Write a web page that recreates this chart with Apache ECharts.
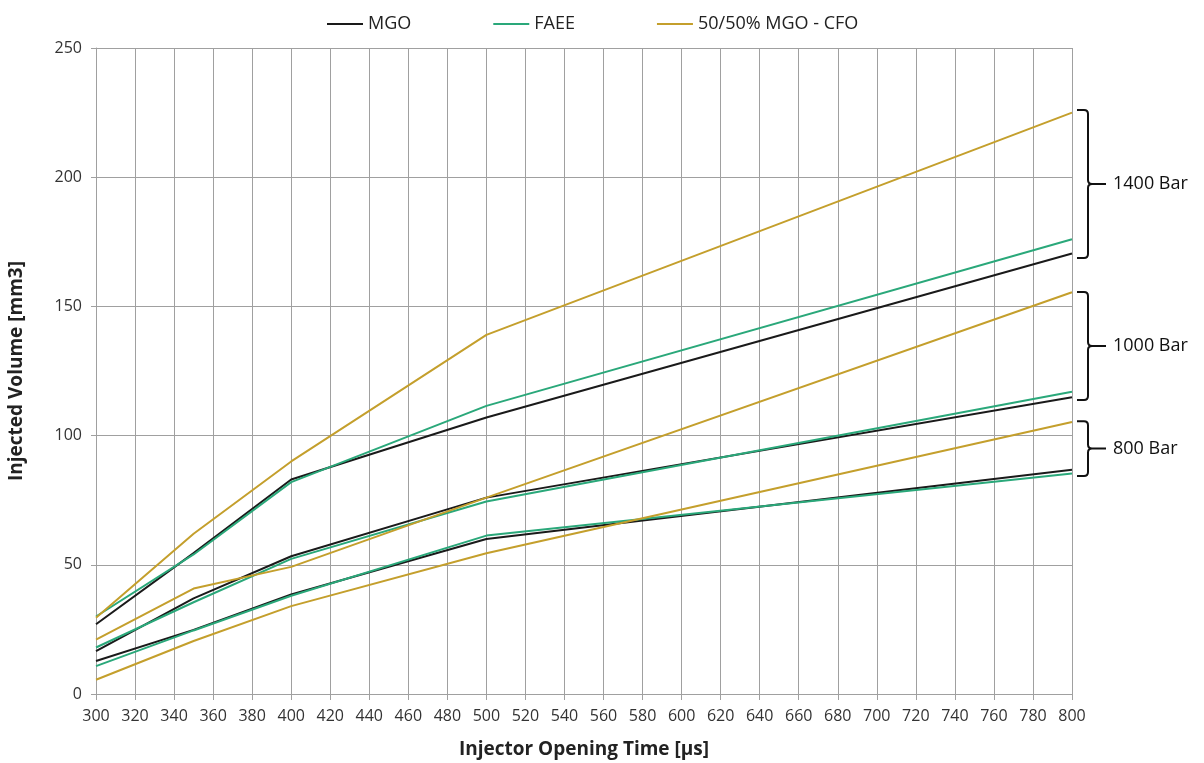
<!DOCTYPE html>
<html>
<head>
<meta charset="utf-8">
<script src="https://cdn.jsdelivr.net/npm/echarts@6/dist/echarts.min.js"></script>
<style>
  html, body { margin: 0; padding: 0; background: #fff; }
  #chart { width: 1204px; height: 763px; }
</style>
</head>
<body>
<div id="chart"></div>
<script>
// injector opening time [µs] where each curve was measured
const openTimes = [300, 350, 400, 500, 800];

// injected volume [mm3] per fuel and pressure
const mgo1400 = [27, 54.5, 83, 107, 170.5];
const faee1400 = [30, 54, 82, 111.5, 176];
const cfo1400 = [29.5, 62, 90, 139, 225];
const mgo1000 = [16.6, 37, 53.3, 76, 114.8];
const faee1000 = [18, 35.5, 52.3, 74.5, 117];
const cfo1000 = [21, 40.8, 49.2, 76, 155.5];
const mgo800 = [12.8, 24.8, 38.5, 60, 86.8];
const faee800 = [10.8, 24.6, 38, 61.3, 85.3];
const cfo800 = [5.5, 20.5, 34, 54.5, 105.3];

const fuelNames = ['MGO', 'FAEE', '50/50% MGO - CFO'];
// pressure groups: [x, low, high, label]
const braceGroups = [
  [800, 168.7, 226, '1400 Bar'],
  [800, 113.8, 155.6, '1000 Bar'],
  [800, 84.4, 105.6, '800 Bar']
];

const colors = {
  'MGO': '#1a1a1a',
  'FAEE': '#2aa87a',
  '50/50% MGO - CFO': '#c49f2c'
};

const font = 'Open Sans';

const pair = (ys) => openTimes.map((x, i) => [x, ys[i]]);

const lineSeries = (name, ys) => ({
  name,
  type: 'line',
  data: pair(ys),
  symbol: 'none',
  silent: true,
  lineStyle: { color: colors[name], width: 2 },
  itemStyle: { color: colors[name] }
});

const chart = echarts.init(document.getElementById('chart'));

chart.setOption({
  animation: false,
  legend: {
    data: fuelNames,
    top: 10,
    left: 322,
    icon: 'rect',
    itemWidth: 36,
    itemHeight: 2,
    itemGap: 82,
    textStyle: { fontFamily: font, fontSize: 18, color: '#222' }
  },
  grid: {
    left: 96,
    right: 132,
    top: 48,
    bottom: 69,
    outerBoundsMode: 'none'
  },
  xAxis: {
    type: 'value',
    min: 300,
    max: 800,
    interval: 20,
    name: 'Injector Opening Time [µs]',
    nameLocation: 'middle',
    nameGap: 46,
    nameTextStyle: { fontFamily: font, fontSize: 19, fontWeight: 'bold', color: '#222' },
    axisLine: { lineStyle: { color: '#a0a0a0' } },
    axisTick: { length: 6, lineStyle: { color: '#a0a0a0' } },
    axisLabel: { fontFamily: font, fontSize: 16, color: '#333', margin: 14 },
    splitLine: { show: true, lineStyle: { color: '#a0a0a0', width: 1 } }
  },
  yAxis: {
    type: 'value',
    min: 0,
    max: 250,
    interval: 50,
    name: 'Injected Volume [mm3]',
    nameLocation: 'middle',
    nameGap: 70,
    nameTextStyle: { fontFamily: font, fontSize: 19, fontWeight: 'bold', color: '#222' },
    axisLine: { show: true, lineStyle: { color: '#a0a0a0' } },
    axisTick: { show: true, length: 5, lineStyle: { color: '#a0a0a0' } },
    axisLabel: { fontFamily: font, fontSize: 16, color: '#333', margin: 14 },
    splitLine: { show: true, lineStyle: { color: '#a0a0a0', width: 1 } }
  },
  series: [
    lineSeries('MGO', mgo1400),
    lineSeries('FAEE', faee1400),
    lineSeries('50/50% MGO - CFO', cfo1400),
    lineSeries('MGO', mgo1000),
    lineSeries('FAEE', faee1000),
    lineSeries('50/50% MGO - CFO', cfo1000),
    lineSeries('MGO', mgo800),
    lineSeries('FAEE', faee800),
    lineSeries('50/50% MGO - CFO', cfo800),
    {
      // curly braces labelling each pressure group
      type: 'custom',
      silent: true,
      clip: false,
      data: braceGroups,
      renderItem: (params, api) => {
        const top = api.coord([api.value(0), api.value(2)]);
        const bot = api.coord([api.value(0), api.value(1)]);
        const x0 = top[0] + 5;
        const x1 = x0 + 11;
        const x2 = x1 + 4;
        const yT = top[1], yB = bot[1], yM = (yT + yB) / 2;
        const r = 4;
        const path =
          `M${x0},${yT} L${x1 - r},${yT} Q${x1},${yT} ${x1},${yT + r} ` +
          `L${x1},${yM - r} Q${x1},${yM} ${x2},${yM} ` +
          `Q${x1},${yM} ${x1},${yM + r} L${x1},${yB - r} ` +
          `Q${x1},${yB} ${x1 - r},${yB} L${x0},${yB} ` +
          `M${x2},${yM} L${x1 + 18},${yM}`;
        return {
          type: 'group',
          children: [
            {
              type: 'path',
              shape: { pathData: path },
              style: { stroke: '#111', lineWidth: 2, fill: null }
            },
            {
              type: 'text',
              style: {
                x: x1 + 25,
                y: yM,
                text: api.value(3),
                fontFamily: font,
                fontSize: 18,
                fill: '#111',
                verticalAlign: 'middle'
              }
            }
          ]
        };
      }
    }
  ]
});
</script>
</body>
</html>
